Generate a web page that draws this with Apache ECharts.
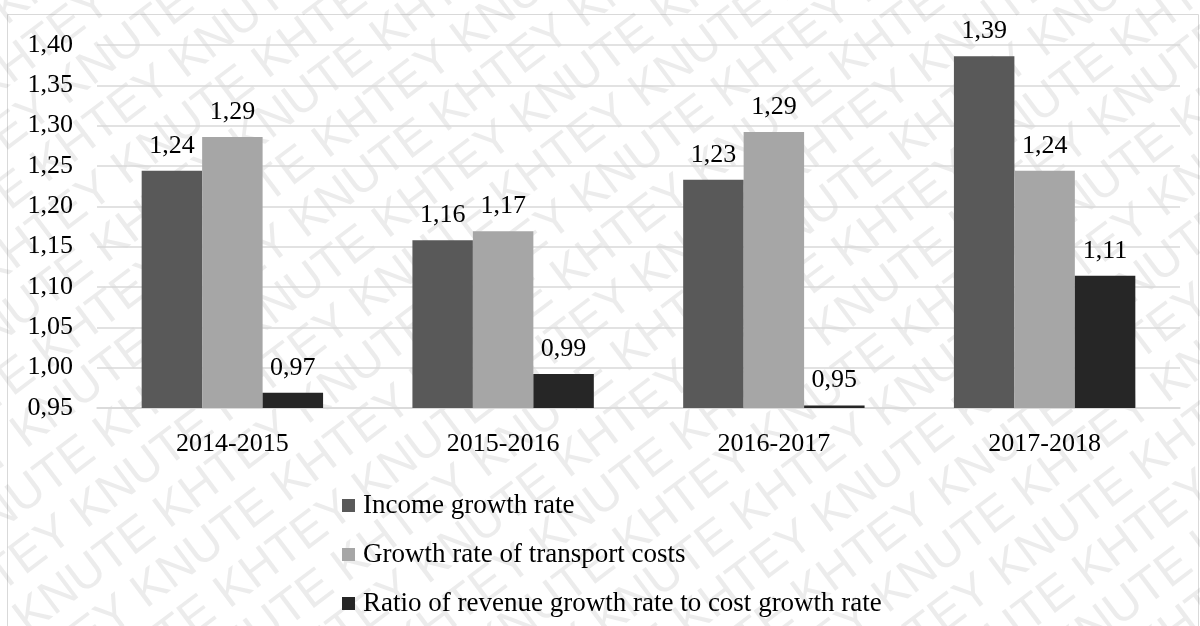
<!DOCTYPE html>
<html>
<head>
<meta charset="utf-8">
<script src="https://cdn.jsdelivr.net/npm/echarts@6/dist/echarts.min.js"></script>
<style>html,body{margin:0;padding:0;background:#fff}#c{width:1200px;height:626px}</style>
</head>
<body>
<div id="c"></div>
<script>
var categories = ['2014-2015', '2015-2016', '2016-2017', '2017-2018'];
var seriesNames = ['Income growth rate', 'Growth rate of transport costs', 'Ratio of revenue growth rate to cost growth rate'];
var incomeGrowth = [1.244, 1.158, 1.233, 1.386];
var transportGrowth = [1.286, 1.169, 1.292, 1.244];
var ratioGrowth = [0.969, 0.992, 0.953, 1.114];
var yTicks = { min: 0.95, max: 1.40, interval: 0.05 };

var FONT = '"Liberation Serif", "Times New Roman", serif';
var colors = ['#595959', '#a6a6a6', '#262626'];

function fmt(v, d) { return v.toFixed(d).replace('.', ','); }

// watermark (decoration, not data)
var wm = [];
var line = '';
for (var k = 0; k < 12; k++) line += 'KNUTE KHTEY ';
for (var r = -14; r <= 14; r++) {
  wm.push({
    type: 'text', silent: true,
    x: -1000 + (r % 2 === 0 ? 0 : 110), y: r * 50,
    style: { text: line, font: '48px "Liberation Sans", Arial, sans-serif', fill: 'rgba(120,120,120,0.14)', textVerticalAlign: 'middle' }
  });
}

var chart = echarts.init(document.getElementById('c'), null, { renderer: 'canvas' });
chart.setOption({
  backgroundColor: '#ffffff',
  animation: false,
  color: colors,
  grid: { left: 97, right: 20, top: 45, bottom: 218, containLabel: false },
  xAxis: {
    type: 'category', data: categories,
    axisLine: { show: true, lineStyle: { color: '#d9d9d9', width: 1.5 } },
    axisTick: { show: false },
    axisLabel: { color: '#000', fontFamily: FONT, fontSize: 26, margin: 23 }
  },
  yAxis: {
    type: 'value', min: yTicks.min, max: yTicks.max, interval: yTicks.interval,
    axisLine: { show: false }, axisTick: { show: false },
    splitLine: { lineStyle: { color: '#d9d9d9', width: 1.5 } },
    axisLabel: { color: '#000', fontFamily: FONT, fontSize: 26, margin: 24, formatter: function (v) { return fmt(v, 2); } }
  },
  legend: {
    orient: 'vertical', left: 337, top: 487,
    icon: 'rect', itemWidth: 13, itemHeight: 13, itemGap: 22,
    textStyle: { color: '#000', fontFamily: FONT, fontSize: 27, padding: [0, 0, 0, 3] },
    data: seriesNames
  },
  series: [incomeGrowth, transportGrowth, ratioGrowth].map(function (arr, i) {
    return {
      type: 'bar', name: seriesNames[i], data: arr,
      barGap: '0%', barCategoryGap: '33%',
      itemStyle: { color: colors[i] },
      label: { show: true, position: 'top', distance: 12, color: '#000', fontFamily: FONT, fontSize: 26,
        formatter: function (p) { return fmt(p.value, 2); } }
    };
  }),
  graphic: [
    { type: 'rect', silent: true, z: -10, shape: { x: 7.5, y: 14.5, width: 1191, height: 620 }, style: { fill: 'none', stroke: '#d9d9d9', lineWidth: 1 } },
    { type: 'group', silent: true, z: 100, x: 600, y: 313, rotation: 37 * Math.PI / 180, children: wm }
  ]
});
</script>
</body>
</html>
